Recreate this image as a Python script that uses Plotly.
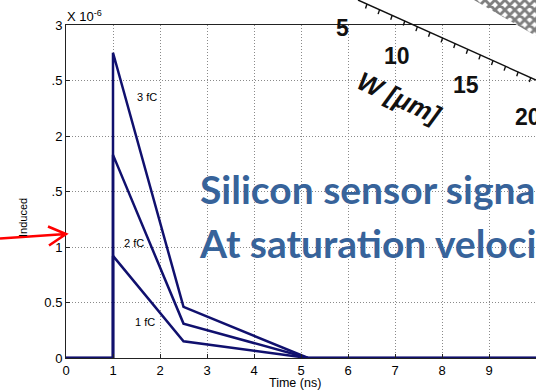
import plotly.graph_objects as go

# Induced signal for three deposited charges (current in units of 1e-6)
time_ns = [0, 1, 1, 2.5, 5.15, 10]
charges = ["1 fC", "2 fC", "3 fC"]
peak_vals = [0.92, 1.83, 2.75]
knee_vals = [0.15, 0.31, 0.46]

# where each charge label sits (time, value)
label_t = [1.68, 1.44, 1.72]
label_v = [0.32, 1.04, 2.35]

x_ticks = list(range(0, 11))
x_ticktext = [str(v) for v in x_ticks]
y_ticks = [0, 0.5, 1, 1.5, 2, 2.5, 3]
y_ticktext = ["0", "0.5", "1", ".5", "2", ".5", "3"]

# width axis of the 3D surface plot peeking in at the top right
w_major = ["5", "10", "15", "20"]
w_label_px = [(342, 28), (397, 56), (466, 85), (528, 117)]
w_minor = list(range(5, 20))

W, H = 536, 392
LINE = "#10106e"
TITLE_BLUE = "#37639a"

fig = go.Figure()

for q, pk, kn in zip(charges, peak_vals, knee_vals):
    fig.add_trace(go.Scatter(
        x=time_ns, y=[0, 0, pk, kn, 0, 0], mode="lines",
        line=dict(color=LINE, width=2.5), name=q, showlegend=False,
        xaxis="x", yaxis="y", hoverinfo="skip"))

# --- decorations on a pixel-space overlay axis ---
# mesh corner of the surface plot
fig.add_trace(go.Scatter(
    x=[474, 536, 536, 474], y=[0, 0, 36, 0], mode="lines", fill="toself",
    line=dict(width=0, color="rgba(0,0,0,0)"), fillcolor="white",
    fillpattern=dict(shape="x", size=7, solidity=0.65, fgcolor="#000", bgcolor="white"),
    xaxis="x2", yaxis="y2", showlegend=False, hoverinfo="skip"))


def w_to_px(w):
    # map a width value onto the slanted 3D axis line
    return 367 + (w - 5) * 12.6, 4 + (w - 5) * 5.65


ax_x0, ax_y0 = 358, 0
ax_x1, ax_y1 = 536, 80
tx, ty = [ax_x0, ax_x1, None], [ax_y0, ax_y1, None]
for w in w_minor:
    px, py = w_to_px(w)
    tx += [px, px - 1.5, None]
    ty += [py, py + 4.5, None]
fig.add_trace(go.Scatter(
    x=tx, y=ty, mode="lines", line=dict(color="#111", width=1.4),
    xaxis="x2", yaxis="y2", showlegend=False, hoverinfo="skip"))

annotations = []
for txt, (px, py) in zip(w_major, w_label_px):
    annotations.append(dict(
        x=px, y=py, xref="x2", yref="y2", text=txt, showarrow=False,
        font=dict(family="Liberation Sans", size=23, color="#111", weight="bold"),
        xanchor="center", yanchor="middle"))
annotations.append(dict(
    x=399, y=98, xref="x2", yref="y2", text="<i>W [μm]</i>", showarrow=False,
    textangle=25, font=dict(family="Liberation Sans", size=26, color="#111", weight="bold"),
    xanchor="center", yanchor="middle"))

# charge labels on the curves
for q, t, v in zip(charges, label_t, label_v):
    annotations.append(dict(
        x=t, y=v, xref="x", yref="y", text=q, showarrow=False,
        font=dict(family="Liberation Sans", size=11, color="black"),
        xanchor="center", yanchor="middle"))

# exponent marker, axis labels
annotations += [
    dict(x=65, y=16, xref="x2", yref="y2", text="X 10<sup>-6</sup>", showarrow=False,
         font=dict(family="Liberation Sans", size=13, color="black"),
         xanchor="left", yanchor="middle"),
    dict(x=295, y=383, xref="x2", yref="y2", text="Time (ns)", showarrow=False,
         font=dict(family="Liberation Sans", size=12.5, color="black"),
         xanchor="center", yanchor="middle"),
    dict(x=23, y=218, xref="x2", yref="y2", text="Induced", showarrow=False, textangle=-90,
         font=dict(family="Liberation Sans", size=11, color="black"),
         xanchor="center", yanchor="middle"),
    dict(x=198, y=189, xref="x2", yref="y2", text="Silicon sensor signal", showarrow=False,
         font=dict(family="Lato", size=39, color=TITLE_BLUE, weight="bold"),
         xanchor="left", yanchor="middle"),
    dict(x=197, y=243, xref="x2", yref="y2", text="At saturation velocity", showarrow=False,
         font=dict(family="Lato", size=39, color=TITLE_BLUE, weight="bold"),
         xanchor="left", yanchor="middle"),
]

shapes = [
    # red pointer arrow
    dict(type="path", xref="x2", yref="y2",
         path="M 0,238.5 L 66,234 M 48,226.5 L 66,234 L 49,245.5",
         line=dict(color="#ff0000", width=2.6)),
]

axis_font = dict(family="Liberation Sans", size=13, color="black")

fig.update_layout(
    width=W, height=H,
    margin=dict(l=0, r=0, t=0, b=0, autoexpand=False),
    paper_bgcolor="white", plot_bgcolor="rgba(0,0,0,0)",
    showlegend=False,
    xaxis=dict(domain=[66 / W, 1], range=[0, 10], tickvals=x_ticks, ticktext=x_ticktext,
               automargin=False,
               showgrid=True, gridcolor="#8a8a8a", griddash="1px,2px", gridwidth=1,
               zeroline=False, showline=True, linecolor="#222", linewidth=1, mirror=True,
               ticks="inside", ticklen=4, tickcolor="#222", tickfont=axis_font),
    yaxis=dict(domain=[(H - 358) / H, (H - 25) / H], range=[0, 3], tickvals=y_ticks,
               ticktext=y_ticktext, automargin=False,
               showgrid=True, gridcolor="#8a8a8a", griddash="1px,2px", gridwidth=1,
               zeroline=False, showline=True, linecolor="#222", linewidth=1,
               ticks="inside", ticklen=4, tickcolor="#222", tickfont=axis_font),
    xaxis2=dict(domain=[0, 1], range=[0, W], visible=False, anchor="y2", automargin=False),
    yaxis2=dict(domain=[0, 1], range=[H, 0], visible=False, anchor="x2", automargin=False),
    annotations=annotations,
    shapes=shapes,
)

fig.write_html("out.html")
